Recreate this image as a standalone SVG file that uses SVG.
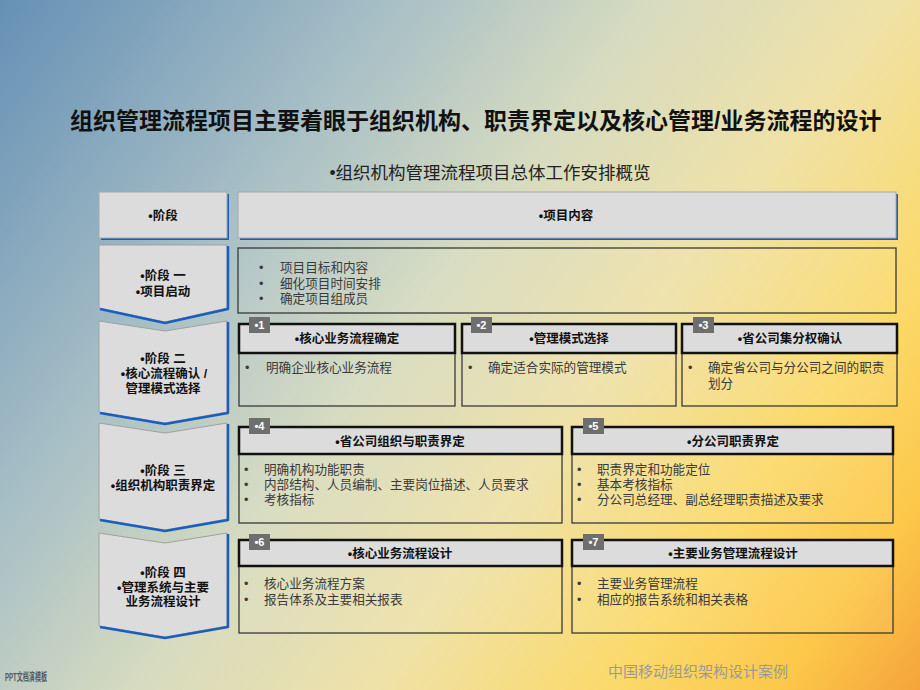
<svg xmlns="http://www.w3.org/2000/svg" width="920" height="690" viewBox="0 0 920 690">
<defs>
<linearGradient id="bg" gradientUnits="userSpaceOnUse" x1="0" y1="0" x2="920" y2="690">
<stop offset="0" stop-color="#6590b5"/>
<stop offset="0.28" stop-color="#a9c0c6"/>
<stop offset="0.45" stop-color="#d6dbc0"/>
<stop offset="0.62" stop-color="#efe2a8"/>
<stop offset="0.78" stop-color="#fbda6c"/>
<stop offset="0.9" stop-color="#fcc84a"/>
<stop offset="1" stop-color="#f5a43a"/>
</linearGradient>
<style>
text{font-family:'Liberation Sans','Noto Sans CJK SC',sans-serif;}
.title{font-size:23px;font-weight:bold;fill:#111;}
.sub{font-size:17.5px;fill:#222;text-anchor:middle;}
.hdr{fill:#dcdcdc;stroke:#a8a8a8;stroke-width:1;}
.shadow{fill:#1a5fc0;}
.stage{fill:#dcdcdc;stroke:#a0a0a0;stroke-width:1;}
.blue{fill:none;stroke:#1a5fc0;stroke-width:2.5;stroke-linejoin:round;}
.lbl{font-size:12.5px;font-weight:bold;fill:#111;text-anchor:middle;}
.body{fill:#ffffff;fill-opacity:0.06;stroke:#3a3a3a;stroke-width:1.3;}
.bh{fill:#dcdcdc;stroke:#111;stroke-width:2.5;}
.tag{fill:#6e6e6e;}
.tagt{font-size:11px;font-weight:bold;fill:#fff;text-anchor:middle;}
.txt{font-size:12.6px;fill:#3a3a3a;}
.foot{font-size:15px;fill:#9a9a9a;text-anchor:middle;}
.logo{font-size:11px;font-weight:bold;fill:#5a5a5a;}
</style>
</defs>
<rect width="920" height="690" fill="url(#bg)"/>
<text class="title" x="70" y="129">组织管理流程项目主要着眼于组织机构、职责界定以及核心管理/业务流程的设计</text>
<text class="sub" x="490" y="179">•组织机构管理流程项目总体工作安排概览</text>

<g id="head-stage">
<rect class="shadow" x="101" y="194" width="128" height="46"/>
<rect class="hdr" x="99" y="192" width="128" height="46"/>
<text class="lbl" x="163" y="220">•阶段</text>
</g>
<g id="head-content">
<rect class="shadow" x="240" y="194" width="658" height="46"/>
<rect class="hdr" x="238" y="192" width="658" height="46"/>
<text class="lbl" x="566" y="220">•项目内容</text>
</g>

<g id="stage1">
<polygon class="stage" points="99,245 227,245 227,308 165,322 99,308"/>
<polyline class="blue" points="228,246 228,309 165,323 100,309"/>
<text class="lbl" x="163" y="280">•阶段 一</text>
<text class="lbl" x="163" y="296">•项目启动</text>
</g>
<g id="stage2">
<polygon class="stage" points="99,321 165,331 227,321 227,412 165,423 99,412"/>
<polyline class="blue" points="228,322 228,413 165,424 100,413"/>
<text class="lbl" x="163" y="363">•阶段 二</text>
<text class="lbl" x="164" y="378">•核心流程确认 /</text>
<text class="lbl" x="163" y="393">管理模式选择</text>
</g>
<g id="stage3">
<polygon class="stage" points="99,423 165,433 227,423 227,519 165,530 99,519"/>
<polyline class="blue" points="228,424 228,520 165,531 100,520"/>
<text class="lbl" x="163" y="475">•阶段 三</text>
<text class="lbl" x="163" y="490">•组织机构职责界定</text>
</g>
<g id="stage4">
<polygon class="stage" points="99,533 165,543 227,533 227,626 165,637 99,626"/>
<polyline class="blue" points="228,534 228,627 165,638 100,627"/>
<text class="lbl" x="163" y="577">•阶段 四</text>
<text class="lbl" x="163" y="592">•管理系统与主要</text>
<text class="lbl" x="163" y="606">业务流程设计</text>
</g>

<g id="content1">
<rect class="body" x="238" y="248" width="658" height="65"/>
<text class="txt" x="259" y="272">•</text><text class="txt" x="280" y="272">项目目标和内容</text>
<text class="txt" x="259" y="288">•</text><text class="txt" x="280" y="288">细化项目时间安排</text>
<text class="txt" x="259" y="303">•</text><text class="txt" x="280" y="303">确定项目组成员</text>
</g>

<g id="box1">
<rect class="body" x="239" y="324" width="216" height="82"/>
<rect class="bh" x="239" y="324" width="216" height="29"/>
<rect class="tag" x="249" y="317" width="21" height="16"/>
<text class="tagt" x="259.5" y="329">•1</text>
<text class="lbl" x="347" y="343">•核心业务流程确定</text>
<text class="txt" x="245" y="372">•</text><text class="txt" x="266" y="372">明确企业核心业务流程</text>
</g>
<g id="box2">
<rect class="body" x="462" y="324" width="214" height="82"/>
<rect class="bh" x="462" y="324" width="214" height="29"/>
<rect class="tag" x="471" y="317" width="21" height="16"/>
<text class="tagt" x="481.5" y="329">•2</text>
<text class="lbl" x="569" y="343">•管理模式选择</text>
<text class="txt" x="468" y="372">•</text><text class="txt" x="488" y="372">确定适合实际的管理模式</text>
</g>
<g id="box3">
<rect class="body" x="682" y="324" width="215" height="82"/>
<rect class="bh" x="682" y="324" width="215" height="29"/>
<rect class="tag" x="693" y="317" width="21" height="16"/>
<text class="tagt" x="703.5" y="329">•3</text>
<text class="lbl" x="790" y="343">•省公司集分权确认</text>
<text class="txt" x="688" y="372">•</text><text class="txt" x="708" y="372">确定省公司与分公司之间的职责</text>
<text class="txt" x="708" y="388">划分</text>
</g>

<g id="box4">
<rect class="body" x="239" y="427" width="323" height="96"/>
<rect class="bh" x="239" y="427" width="323" height="27"/>
<rect class="tag" x="249" y="418" width="21" height="16"/>
<text class="tagt" x="259.5" y="430">•4</text>
<text class="lbl" x="400" y="446">•省公司组织与职责界定</text>
<text class="txt" x="244" y="474">•</text><text class="txt" x="264" y="474">明确机构功能职责</text>
<text class="txt" x="244" y="489">•</text><text class="txt" x="264" y="489">内部结构、人员编制、主要岗位描述、人员要求</text>
<text class="txt" x="244" y="504">•</text><text class="txt" x="264" y="504">考核指标</text>
</g>
<g id="box5">
<rect class="body" x="572" y="427" width="321" height="96"/>
<rect class="bh" x="572" y="427" width="321" height="27"/>
<rect class="tag" x="583" y="418" width="21" height="16"/>
<text class="tagt" x="593.5" y="430">•5</text>
<text class="lbl" x="733" y="446">•分公司职责界定</text>
<text class="txt" x="577" y="474">•</text><text class="txt" x="597" y="474">职责界定和功能定位</text>
<text class="txt" x="577" y="489">•</text><text class="txt" x="597" y="489">基本考核指标</text>
<text class="txt" x="577" y="504">•</text><text class="txt" x="597" y="504">分公司总经理、副总经理职责描述及要求</text>
</g>

<g id="box6">
<rect class="body" x="239" y="540" width="323" height="93"/>
<rect class="bh" x="239" y="540" width="323" height="26"/>
<rect class="tag" x="249" y="534" width="21" height="16"/>
<text class="tagt" x="259.5" y="546">•6</text>
<text class="lbl" x="400" y="558">•核心业务流程设计</text>
<text class="txt" x="244" y="588">•</text><text class="txt" x="264" y="588">核心业务流程方案</text>
<text class="txt" x="244" y="604">•</text><text class="txt" x="264" y="604">报告体系及主要相关报表</text>
</g>
<g id="box7">
<rect class="body" x="572" y="540" width="321" height="93"/>
<rect class="bh" x="572" y="540" width="321" height="26"/>
<rect class="tag" x="583" y="534" width="21" height="16"/>
<text class="tagt" x="593.5" y="546">•7</text>
<text class="lbl" x="733" y="558">•主要业务管理流程设计</text>
<text class="txt" x="577" y="588">•</text><text class="txt" x="597" y="588">主要业务管理流程</text>
<text class="txt" x="577" y="604">•</text><text class="txt" x="597" y="604">相应的报告系统和相关表格</text>
</g>

<g id="connectors"></g>

<text class="logo" x="5" y="681" textLength="42" lengthAdjust="spacingAndGlyphs">PPT文档演模板</text>
<text class="foot" x="698" y="677">中国移动组织架构设计案例</text>
</svg>
